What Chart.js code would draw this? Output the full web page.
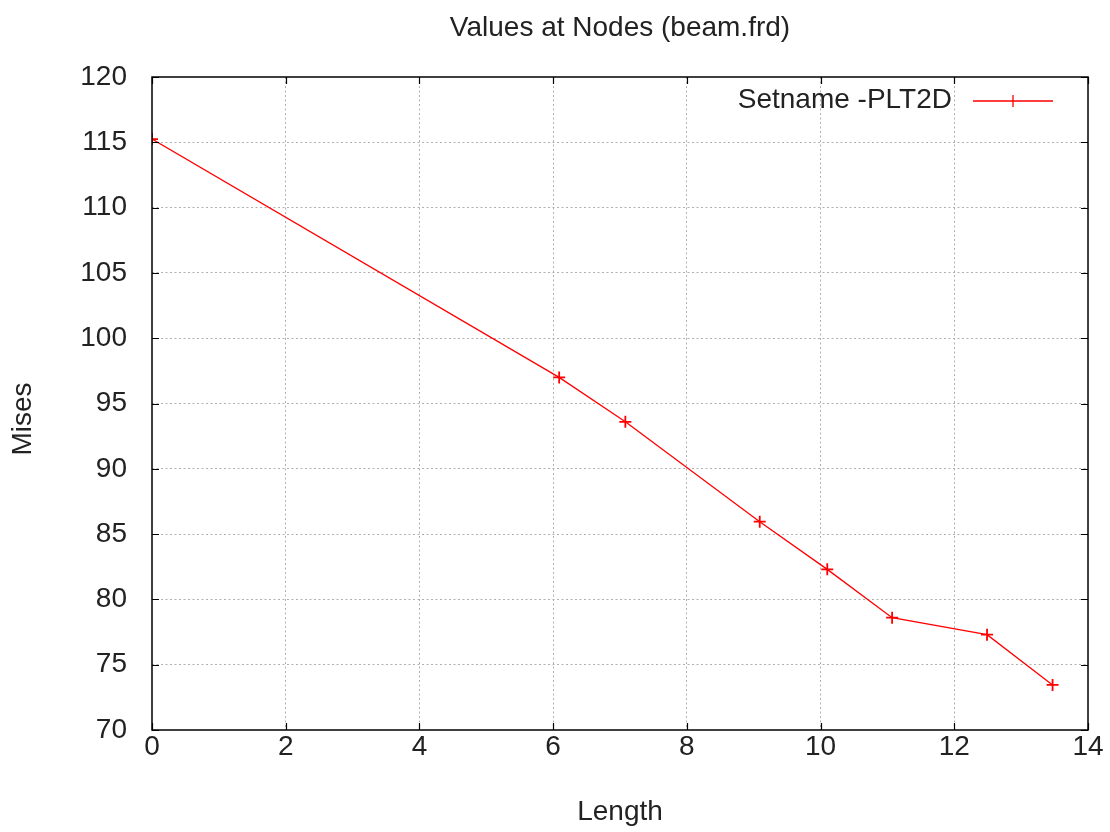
<!DOCTYPE html>
<html>
<head>
<meta charset="utf-8">
<title>Values at Nodes (beam.frd)</title>
<script src="https://cdn.jsdelivr.net/npm/chart.js@4/dist/chart.umd.min.js"></script>
<style>
  html, body { margin: 0; padding: 0; background: #fff; }
  #wrap { width: 1110px; height: 832px; }
</style>
</head>
<body>
<div id="wrap"><canvas id="plot" width="1110" height="832"></canvas></div>
<script>
// node positions along the beam and von Mises stress
const lengthVals = [0, 6.09, 7.08, 9.09, 10.1, 11.07, 12.49, 13.47];
const misesVals = [115.25, 97.0, 93.6, 85.95, 82.3, 78.6, 77.3, 73.45];
const seriesName = 'Setname -PLT2D';

const xTicks = [0, 2, 4, 6, 8, 10, 12, 14];
const yTicks = [70, 75, 80, 85, 90, 95, 100, 105, 110, 115, 120];

const FONT = 'Liberation Sans, Arial, sans-serif';
const FSIZE = 28;
const textColor = '#222';

// gnuplot style: full frame, inward tick marks, legend with line sample, y label
const framePlugin = {
    id: 'frame',
    afterDatasetsDraw(chart) {
        const ctx = chart.ctx;
        const a = chart.chartArea;
        const xs = chart.scales.x, ys = chart.scales.y;
        ctx.save();
        ctx.strokeStyle = '#000';
        ctx.lineWidth = 1.5;
        ctx.strokeRect(a.left, a.top, a.right - a.left, a.bottom - a.top);
        ctx.lineWidth = 1.2;
        ctx.beginPath();
        xTicks.forEach(v => {
            const px = Math.round(xs.getPixelForValue(v)) + 0.5;
            ctx.moveTo(px, a.bottom); ctx.lineTo(px, a.bottom - 7);
            ctx.moveTo(px, a.top); ctx.lineTo(px, a.top + 7);
        });
        yTicks.forEach(v => {
            const py = Math.round(ys.getPixelForValue(v)) + 0.5;
            ctx.moveTo(a.left, py); ctx.lineTo(a.left + 7, py);
            ctx.moveTo(a.right, py); ctx.lineTo(a.right - 7, py);
        });
        ctx.stroke();

        // legend
        const ly = a.top + 23;
        ctx.font = FSIZE + 'px ' + FONT;
        ctx.fillStyle = textColor;
        ctx.textAlign = 'right';
        ctx.textBaseline = 'middle';
        ctx.fillText(seriesName, a.right - 136, ly);
        ctx.strokeStyle = 'red';
        ctx.lineWidth = 1.3;
        ctx.beginPath();
        ctx.moveTo(a.right - 115, ly + 1); ctx.lineTo(a.right - 35, ly + 1);
        ctx.moveTo(a.right - 75, ly - 5); ctx.lineTo(a.right - 75, ly + 7);
        ctx.stroke();

        // y axis label (gnuplot puts it a bit below the middle)
        ctx.translate(23, 419);
        ctx.rotate(-Math.PI / 2);
        ctx.textAlign = 'center';
        ctx.fillText('Mises', 0, 0);
        ctx.restore();
    }
};

new Chart(document.getElementById('plot'), {
    type: 'line',
    data: {
        datasets: [{
            label: seriesName,
            data: lengthVals.map((x, i) => ({ x: x, y: misesVals[i] })),
            borderColor: 'red',
            backgroundColor: 'red',
            borderWidth: 1.3,
            pointStyle: 'cross',
            pointRadius: 6,
            pointBorderWidth: 1.8,
            pointBorderColor: 'red',
            tension: 0,
            fill: false
        }]
    },
    options: {
        responsive: false,
        animation: false,
        layout: { padding: { right: 22, top: 0, bottom: 0, left: 0 } },
        plugins: {
            legend: { display: false },
            tooltip: { enabled: false },
            title: {
                display: true,
                text: 'Values at Nodes (beam.frd)',
                fullSize: false,
                color: textColor,
                font: { family: FONT, size: FSIZE, weight: 'normal' },
                padding: { top: 11, bottom: 32.4 }
            }
        },
        scales: {
            x: {
                type: 'linear',
                min: 0,
                max: 14,
                afterBuildTicks: s => { s.ticks = xTicks.map(v => ({ value: v })); },
                afterFit: s => { s.height = 102; },
                ticks: {
                    color: textColor,
                    font: { family: FONT, size: FSIZE },
                    padding: 0,
                    maxRotation: 0
                },
                grid: {
                    color: ctx => (ctx.tick && (ctx.tick.value === 0 || ctx.tick.value === 14)) ? 'rgba(0,0,0,0)' : '#b0b0b0',
                    lineWidth: 1,
                    drawTicks: false
                },
                border: { display: false, dash: [2, 2.5] },
                title: {
                    display: true,
                    text: 'Length',
                    color: textColor,
                    font: { family: FONT, size: FSIZE },
                    padding: { top: 0, bottom: 3 }
                }
            },
            y: {
                type: 'linear',
                min: 70,
                max: 120,
                afterBuildTicks: s => { s.ticks = yTicks.map(v => ({ value: v })); },
                afterFit: s => { s.width = 152; },
                ticks: {
                    color: textColor,
                    font: { family: FONT, size: FSIZE },
                    padding: 25
                },
                grid: {
                    color: ctx => (ctx.tick && (ctx.tick.value === 70 || ctx.tick.value === 120)) ? 'rgba(0,0,0,0)' : '#b0b0b0',
                    lineWidth: 1,
                    drawTicks: false
                },
                border: { display: false, dash: [2, 2.5] }
            }
        }
    },
    plugins: [framePlugin]
});
</script>
</body>
</html>
